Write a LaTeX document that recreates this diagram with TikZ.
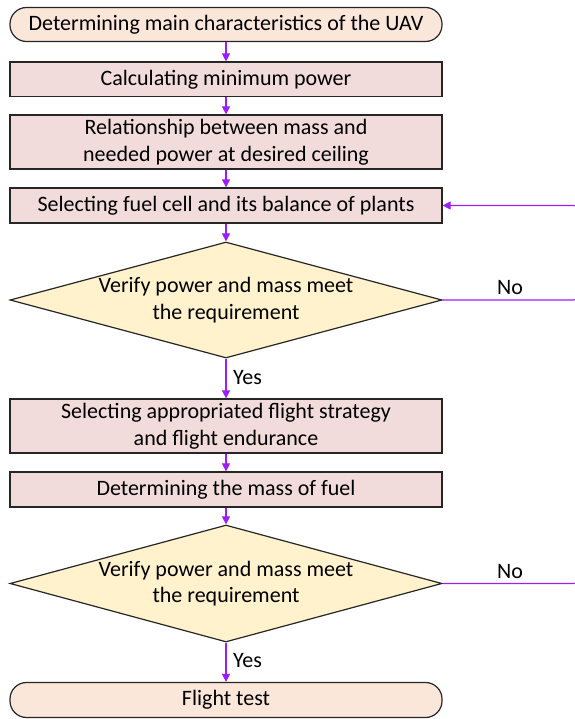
\documentclass[tikz,border=0pt]{standalone}
\usepackage{fontspec}
\setmainfont{Carlito}
\usetikzlibrary{shapes.geometric,arrows.meta}
\definecolor{termfill}{HTML}{FBE7DA}
\definecolor{procfill}{HTML}{F2DCDB}
\definecolor{decfill}{HTML}{FFF2CC}
\definecolor{flow}{HTML}{9B1CFF}
\definecolor{edge}{HTML}{262626}
\tikzset{
  x=1pt, y=1pt,
  base/.style={draw=edge, line width=1.2pt, text=black, align=center,
    font=\fontsize{22}{26.7}\selectfont, inner sep=0pt, minimum width=432pt},
  term/.style={base, rectangle, rounded corners=16.5pt, fill=termfill, minimum height=34pt},
  proc/.style={base, rectangle, fill=procfill},
  dec/.style={base, diamond, aspect=3.7, fill=decfill, minimum height=116pt},
  flowline/.style={draw=flow, line width=1.1pt, -{Triangle[length=8pt,width=8pt]}},
  looppath/.style={draw=flow, line width=1.1pt, rounded corners=6pt},
  lbl/.style={font=\fontsize{22}{26.7}\selectfont, inner sep=0pt}
}
\begin{document}
\begin{tikzpicture}
\useasboundingbox (0,0) rectangle (574,-719);

% process chain
\node[term] (start) at (226,-24.5) {Determining main characteristics of the UAV};
\node[proc, minimum height=34.5pt] (minpow) at (226,-79.3) {Calculating minimum power};
\node[proc, minimum height=54pt] (relation) at (226,-142) {Relationship between mass and\\needed power at desired ceiling};
\node[proc, minimum height=35pt] (fuelcell) at (226,-205.5) {Selecting fuel cell and its balance of plants};
\node[dec] (check1) at (226,-300) {Verify power and mass meet\\the requirement};
\node[proc, minimum height=54pt] (strategy) at (226,-426) {Selecting appropriated flight strategy\\and flight endurance};
\node[proc, minimum height=35pt] (fuelmass) at (226,-489.5) {Determining the mass of fuel};
\node[dec, minimum height=117pt] (check2) at (226,-583.5) {Verify power and mass meet\\the requirement};
\node[term, minimum height=35pt] (finish) at (226,-700) {Flight test};

% straight connectors
\draw[flowline] (start) -- (minpow);
\draw[flowline] (minpow) -- (relation);
\draw[flowline] (relation) -- (fuelcell);
\draw[flowline] (fuelcell) -- (check1);
\draw[flowline] (check1) -- (strategy);
\draw[flowline] (strategy) -- (fuelmass);
\draw[flowline] (fuelmass) -- (check2);
\draw[flowline] (check2) -- (finish);

% "No" loops running along the right side
\coordinate (loop1) at (579,-300);
\draw[looppath, -{Triangle[length=8pt,width=8pt]}] (check1.east) -- (loop1) |- (fuelcell.east);
\coordinate (loop2) at (579,-583.5);
\coordinate (loop2up) at (579,-560);
\draw[looppath] (check2.east) -- (loop2) -- (loop2up);

% branch labels
\node[lbl] (no1) at (510,-288) {No};
\node[lbl] (no2) at (510,-571.5) {No};
\node[lbl, anchor=west] (yes1) at (233,-378) {Yes};
\node[lbl, anchor=west] (yes2) at (233,-661) {Yes};
\end{tikzpicture}
\end{document}
